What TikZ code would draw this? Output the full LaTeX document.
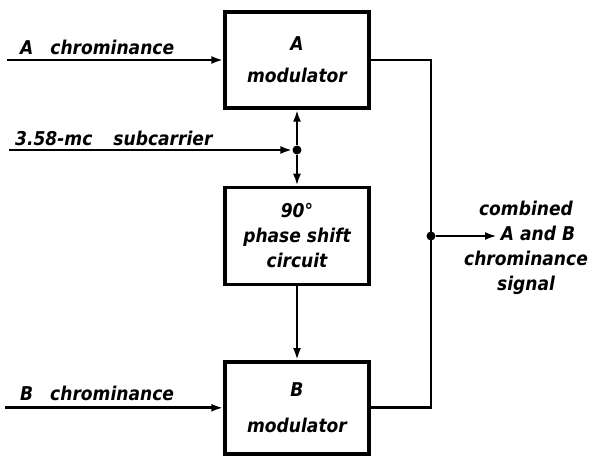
\documentclass[tikz,border=0pt]{standalone}
\usepackage{fontspec}
\setmainfont{DejaVu Sans Condensed}
\usepackage{tikz}
\usetikzlibrary{arrows.meta, positioning}
\newcommand{\lettering}{\fontsize{19}{25}\selectfont\bfseries\itshape}
\tikzstyle{block}=[rectangle, draw, line width=3.4pt, minimum width=144pt,
  align=center, font=\lettering]
\tikzstyle{sig}=[-{Latex[length=12pt,width=8pt]}, line width=2.8pt]
\tikzstyle{wire}=[line width=2.8pt]
\tikzstyle{lbl}=[inner sep=0pt, font=\lettering]
\tikzstyle{dot}=[circle, fill, inner sep=0pt, minimum size=9pt]

\begin{document}
\begin{tikzpicture}[x=1pt, y=1pt]
  \useasboundingbox (0,0) rectangle (595,-456);
  \node[block, minimum height=96pt] (amod) at (297,-60) {A\\[7pt]modulator};
  \node[block, minimum height=97pt, below=76pt of amod] (shift) {90°\\phase shift\\circuit};
  \node[block, minimum height=92pt, below=74pt of shift] (bmod) {B\\[11pt]modulator};
  \node[dot] (jin) at (297,-150) {};
  \node[dot] (jout) at (431,-236) {};
  \coordinate[left=216pt of amod.west] (ain);
  \coordinate[left=218pt of bmod.west] (bin);
  \coordinate (sub) at (9,-150);
  \coordinate (out) at (497,-236);
  \node[lbl, anchor=base west] (alab) at (20,-54) {A\hspace{17pt}chrominance};
  \node[lbl, anchor=base west] (sublab) at (15,-145) {3.58-mc\hspace{21pt}subcarrier};
  \node[lbl, anchor=base west] (blab) at (20,-400) {B\hspace{17pt}chrominance};
  \node[lbl, align=center] (outlab) at (526,-248) {combined\\\hspace*{24pt}A and B\\chrominance\\signal};
  \draw[sig] (ain) -- (amod.west);
  \draw[sig] (bin) -- (bmod.west);
  \draw[sig] (sub) -- (jin);
  \draw[sig] (jin) -- (amod.south);
  \draw[sig] (jin) -- (shift.north);
  \draw[sig] (shift) -- (bmod);
  \draw[wire] (amod.east) -| (jout.center) |- (bmod.east);
  \draw[sig] (jout) -- (out);
\end{tikzpicture}
\end{document}
